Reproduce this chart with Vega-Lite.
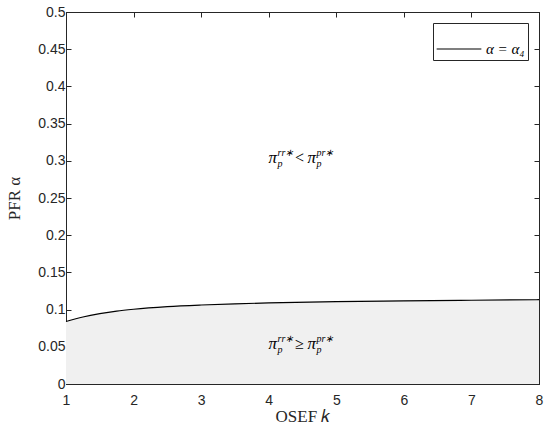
{
  "$schema": "https://vega.github.io/schema/vega-lite/v6.json",
  "autosize": "none",
  "width": 473,
  "height": 372,
  "padding": {"left": 66, "top": 12, "right": 11, "bottom": 47},
  "background": "white",
  "config": {
    "view": {"stroke": "#262626", "strokeWidth": 1},
    "axis": {
      "grid": false,
      "domainColor": "#262626",
      "tickColor": "#262626",
      "labelColor": "#262626",
      "labelFont": "Liberation Sans",
      "labelFontSize": 14,
      "labelFlush": false,
      "titleFont": "Liberation Serif",
      "titleFontSize": 17,
      "titleFontWeight": "normal",
      "titleColor": "#262626",
      "tickSize": -5,
      "labelPadding": 5
    }
  },
  "datasets": {
    "curve": [
      {"k": 1.0, "alpha": 0.0840},
      {"k": 1.25, "alpha": 0.0900},
      {"k": 1.5, "alpha": 0.0945},
      {"k": 1.75, "alpha": 0.0980},
      {"k": 2.0, "alpha": 0.1005},
      {"k": 2.5, "alpha": 0.1040},
      {"k": 3.0, "alpha": 0.1062},
      {"k": 3.5, "alpha": 0.1078},
      {"k": 4.0, "alpha": 0.1090},
      {"k": 5.0, "alpha": 0.1107},
      {"k": 6.0, "alpha": 0.1118},
      {"k": 7.0, "alpha": 0.1126},
      {"k": 8.0, "alpha": 0.1133}
    ],
    "labels": [
      {"k": 4.5, "a": 0.3, "rel": "<"},
      {"k": 4.5, "a": 0.05, "rel": "≥"}
    ]
  },
  "layer": [
    {
      "data": {"name": "curve"},
      "mark": {"type": "area", "color": "#f0f0f0", "interpolate": "monotone"},
      "encoding": {
        "x": {"field": "k", "type": "quantitative", "scale": {"domain": [1, 8], "nice": false},
              "axis": {"values": [1, 2, 3, 4, 5, 6, 7, 8], "format": "d", "title": "OSEF 𝑘", "titlePadding": 1, "labelPadding": 14}},
        "y": {"field": "alpha", "type": "quantitative", "scale": {"domain": [0, 0.5], "nice": false, "zero": true},
              "axis": {"values": [0, 0.05, 0.1, 0.15, 0.2, 0.25, 0.3, 0.35, 0.4, 0.45, 0.5], "format": ".2~f", "title": "PFR α", "titlePadding": 14, "labelPadding": 6}}
      }
    },
    {
      "data": {"name": "curve"},
      "mark": {"type": "line", "opacity": 0},
      "encoding": {
        "x": {"field": "k", "type": "quantitative", "axis": {"orient": "top", "labels": false, "title": null, "values": [1, 2, 3, 4, 5, 6, 7, 8]}},
        "y": {"field": "alpha", "type": "quantitative", "axis": {"orient": "right", "labels": false, "title": null, "values": [0, 0.05, 0.1, 0.15, 0.2, 0.25, 0.3, 0.35, 0.4, 0.45, 0.5]}}
      }
    },
    {
      "data": {"name": "curve"},
      "mark": {"type": "line", "interpolate": "monotone", "strokeWidth": 1.2},
      "encoding": {
        "x": {"field": "k", "type": "quantitative", "axis": null},
        "y": {"field": "alpha", "type": "quantitative", "axis": null},
        "stroke": {"datum": "α = α₄", "type": "nominal",
          "scale": {"range": ["black"]},
          "legend": {"title": null, "orient": "top-right", "offset": 11,
            "strokeColor": "#262626", "fillColor": "white", "padding": 3,
            "symbolType": "stroke", "symbolSize": 2000, "symbolStrokeWidth": 1.2,
            "labelFont": "Liberation Serif", "labelFontSize": 15, "labelFontStyle": "italic", "labelColor": "black"}}
      }
    },
    {
      "data": {"name": "labels"},
      "mark": {"type": "text", "text": "π", "font": "Liberation Serif", "fontStyle": "italic", "fontSize": 17, "align": "left", "baseline": "middle", "dx": -34, "dy": -3},
      "encoding": {"x": {"field": "k", "type": "quantitative", "axis": null}, "y": {"field": "a", "type": "quantitative", "axis": null}}
    },
    {
      "data": {"name": "labels"},
      "mark": {"type": "text", "text": "rr∗", "font": "Liberation Serif", "fontStyle": "italic", "fontSize": 10, "align": "left", "baseline": "middle", "dx": -25, "dy": -8},
      "encoding": {"x": {"field": "k", "type": "quantitative", "axis": null}, "y": {"field": "a", "type": "quantitative", "axis": null}}
    },
    {
      "data": {"name": "labels"},
      "mark": {"type": "text", "text": "p", "font": "Liberation Serif", "fontStyle": "italic", "fontSize": 10, "align": "left", "baseline": "middle", "dx": -25, "dy": 3},
      "encoding": {"x": {"field": "k", "type": "quantitative", "axis": null}, "y": {"field": "a", "type": "quantitative", "axis": null}}
    },
    {
      "data": {"name": "labels"},
      "mark": {"type": "text", "font": "Liberation Serif", "fontSize": 16, "align": "center", "baseline": "middle", "dx": -3, "dy": -3},
      "encoding": {"x": {"field": "k", "type": "quantitative", "axis": null}, "y": {"field": "a", "type": "quantitative", "axis": null}, "text": {"field": "rel"}}
    },
    {
      "data": {"name": "labels"},
      "mark": {"type": "text", "text": "π", "font": "Liberation Serif", "fontStyle": "italic", "fontSize": 17, "align": "left", "baseline": "middle", "dx": 5, "dy": -3},
      "encoding": {"x": {"field": "k", "type": "quantitative", "axis": null}, "y": {"field": "a", "type": "quantitative", "axis": null}}
    },
    {
      "data": {"name": "labels"},
      "mark": {"type": "text", "text": "pr∗", "font": "Liberation Serif", "fontStyle": "italic", "fontSize": 10, "align": "left", "baseline": "middle", "dx": 14, "dy": -8},
      "encoding": {"x": {"field": "k", "type": "quantitative", "axis": null}, "y": {"field": "a", "type": "quantitative", "axis": null}}
    },
    {
      "data": {"name": "labels"},
      "mark": {"type": "text", "text": "p", "font": "Liberation Serif", "fontStyle": "italic", "fontSize": 10, "align": "left", "baseline": "middle", "dx": 14, "dy": 3},
      "encoding": {"x": {"field": "k", "type": "quantitative", "axis": null}, "y": {"field": "a", "type": "quantitative", "axis": null}}
    }
  ],
  "resolve": {"axis": {"x": "independent", "y": "independent"}}
}
